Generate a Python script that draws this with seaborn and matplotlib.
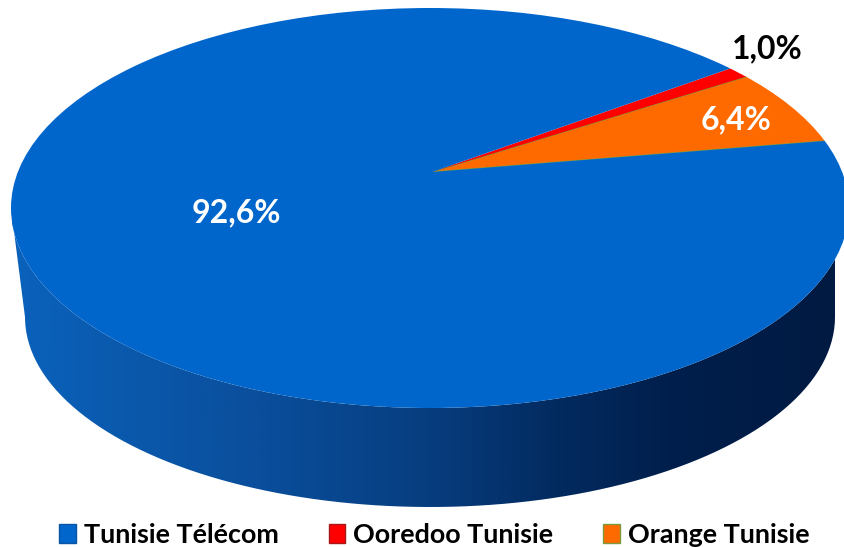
import numpy as np
import matplotlib
matplotlib.use("Agg")
import matplotlib.pyplot as plt
from matplotlib.patches import Ellipse, PathPatch, Patch
from matplotlib.path import Path
from matplotlib.colors import LinearSegmentedColormap
import seaborn as sns

operators = ["Orange Tunisie", "Ooredoo Tunisie", "Tunisie Télécom"]
shares = [6.4, 1.0, 92.6]
share_labels = ["6,4%", "1,0%", "92,6%"]
legend_order = ["Tunisie Télécom", "Ooredoo Tunisie", "Orange Tunisie"]
colors = ["#FF6A00", "#FF0000", "#0066CC"]
edge_colors = {"Orange Tunisie": "#7F9A3C", "Ooredoo Tunisie": "#A81818", "Tunisie Télécom": "#0A55A5"}

sns.set_theme(style="white")
plt.rcParams["font.family"] = ["Lato", "DejaVu Sans"]
palette = sns.color_palette(colors)

W, H = 845, 547
CX, CY, RX, RY = 430.0, 208.0, 419.0, 200.0
fx = lambda p: (p - CX) / RX
fy = lambda p: (CY - p) / RY

fig = plt.figure(figsize=(W / 100, H / 100), dpi=100, facecolor="white")
ax = fig.add_axes([0, 0, 1, 1])

# top-face ellipse is the unit circle in data space; apex is off-centre (perspective)
wedges, _ = ax.pie(shares, colors=palette, startangle=9.4, counterclock=True,
                   center=(fx(432), fy(172)), radius=2.2,
                   wedgeprops=dict(linewidth=0))
ax.set_aspect("auto")
ax.set_xlim(fx(0), fx(W))
ax.set_ylim(fy(H), fy(0))
ax.axis("off")

top = Ellipse((0, 0), 2, 2, transform=ax.transData, fill=False, edgecolor="none", zorder=2)
ax.add_patch(top)
for w, name in zip(wedges, operators):
    w.set_zorder(2)
    w.set_clip_on(True)
    w.set_clip_path(top)
    if name == "Orange Tunisie":
        w.set_edgecolor(edge_colors[name])
        w.set_linewidth(0.9)

# side wall with horizontal gradient
t = np.linspace(np.pi, 2 * np.pi, 200)
top_edge = np.column_stack([np.cos(t), np.sin(t)])
bx, by, brx, bry = fx(430), fy(317), 405 / RX, 190 / RY
low_edge = np.column_stack([bx + brx * np.cos(t), by + bry * np.sin(t)])
verts = np.vstack([top_edge, low_edge[::-1], top_edge[:1]])
side = PathPatch(Path(verts), transform=ax.transData, facecolor="none", edgecolor="none")
ax.add_patch(side)
cmap = LinearSegmentedColormap.from_list("side", [
    (0.00, "#0A62BC"), (0.12, "#0A5AAE"), (0.30, "#0A4E9C"), (0.50, "#073E80"),
    (0.65, "#032C62"), (0.80, "#011F4C"), (1.00, "#001A42")])
im = ax.imshow(np.linspace(0, 1, 512)[None, :], cmap=cmap, aspect="auto",
               extent=(fx(12), fx(835), fy(510), fy(170)), zorder=1,
               interpolation="bilinear")
im.set_clip_path(side)
ax.set_xlim(fx(0), fx(W))
ax.set_ylim(fy(H), fy(0))
ax.set_aspect("auto")

# labels
label_pos = [(736, 120, "white"), (767, 49, "black"), (236, 213, "white")]
for s, (px, py, c) in zip(share_labels, label_pos):
    ax.text(fx(px), fy(py), s, color=c, fontsize=23, fontweight="bold",
            ha="center", va="center", zorder=5)

# legend
color_of = dict(zip(operators, colors))
handles = [Patch(facecolor=color_of[n], edgecolor=edge_colors[n], linewidth=1.0, label=n)
           for n in legend_order]
leg = fig.legend(handles=handles, ncol=3, loc="center", bbox_to_anchor=(434.5 / W, 1 - 535 / H),
                 frameon=False, prop=dict(size=19.4, weight="bold"),
                 handlelength=0.62, handleheight=0.72, handletextpad=0.3,
                 columnspacing=1.85, labelcolor="black")

fig.savefig("out.png", dpi=100)
